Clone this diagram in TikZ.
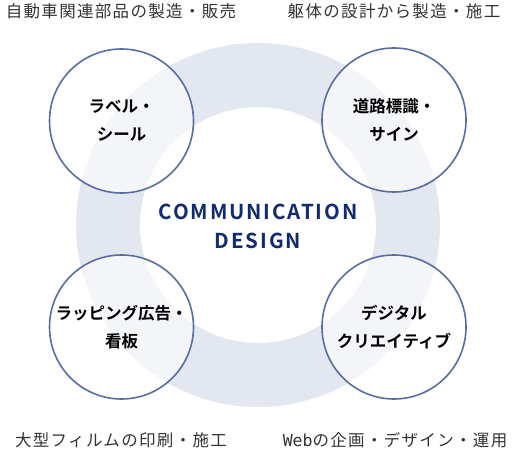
\documentclass[tikz,border=0pt]{standalone}
\usepackage{fontspec}
\setmainfont{Noto Sans CJK JP}
\newfontfamily\captionjp[LetterSpace=8]{Noto Sans CJK JP}
\newfontfamily\webmono{DejaVu Sans Mono}
\newfontfamily\titlefont[LetterSpace=9]{Noto Sans CJK JP Bold}
\newfontfamily\topicfont{Noto Sans CJK JP Bold}
\definecolor{ringgray}{HTML}{E3E7F0}
\definecolor{edgeblue}{HTML}{5A6DA3}
\definecolor{navy}{HTML}{122A6E}
\definecolor{captiongray}{HTML}{333333}

\begin{document}
\begin{tikzpicture}[
  x=1pt, y=-1pt,
  topic/.style={circle, draw=edgeblue, line width=1.6pt, fill=white, fill opacity=0.6, text opacity=1,
    minimum size=144pt, inner sep=0pt, align=center, font=\topicfont\fontsize{16.5}{28}\selectfont},
  caption/.style={font=\captionjp\fontsize{16.5}{20}\selectfont, text=captiongray, inner sep=0pt},
  title/.style={align=center, text=navy, font=\titlefont\fontsize{20.5}{29}\selectfont}
]
\useasboundingbox (0,0) rectangle (516,449);

% background ring
\fill[ringgray, even odd rule] (258,225) circle (182) (258,225) circle (118);

\node[title] (core) at (258,226) {COMMUNICATION\\DESIGN};

\node[topic] (label) at (121.5,121) {ラベル・\\シール};
\node[topic] (sign) at (394,120) {道路標識・\\サイン};
\node[topic] (wrap) at (121.5,327) {ラッピング広告・\\看板};
\node[topic] (digital) at (394,327) {デジタル\\クリエイティブ};

\node[caption] (cap1) at (121,11) {自動車関連部品の製造・販売};
\node[caption] (cap2) at (394,11) {躯体の設計から製造・施工};
\node[caption] (cap3) at (121,440) {大型フィルムの印刷・施工};
\node[caption] (cap4) at (395,440) {{\webmono Web}の企画・デザイン・運用};

\end{tikzpicture}
\end{document}
